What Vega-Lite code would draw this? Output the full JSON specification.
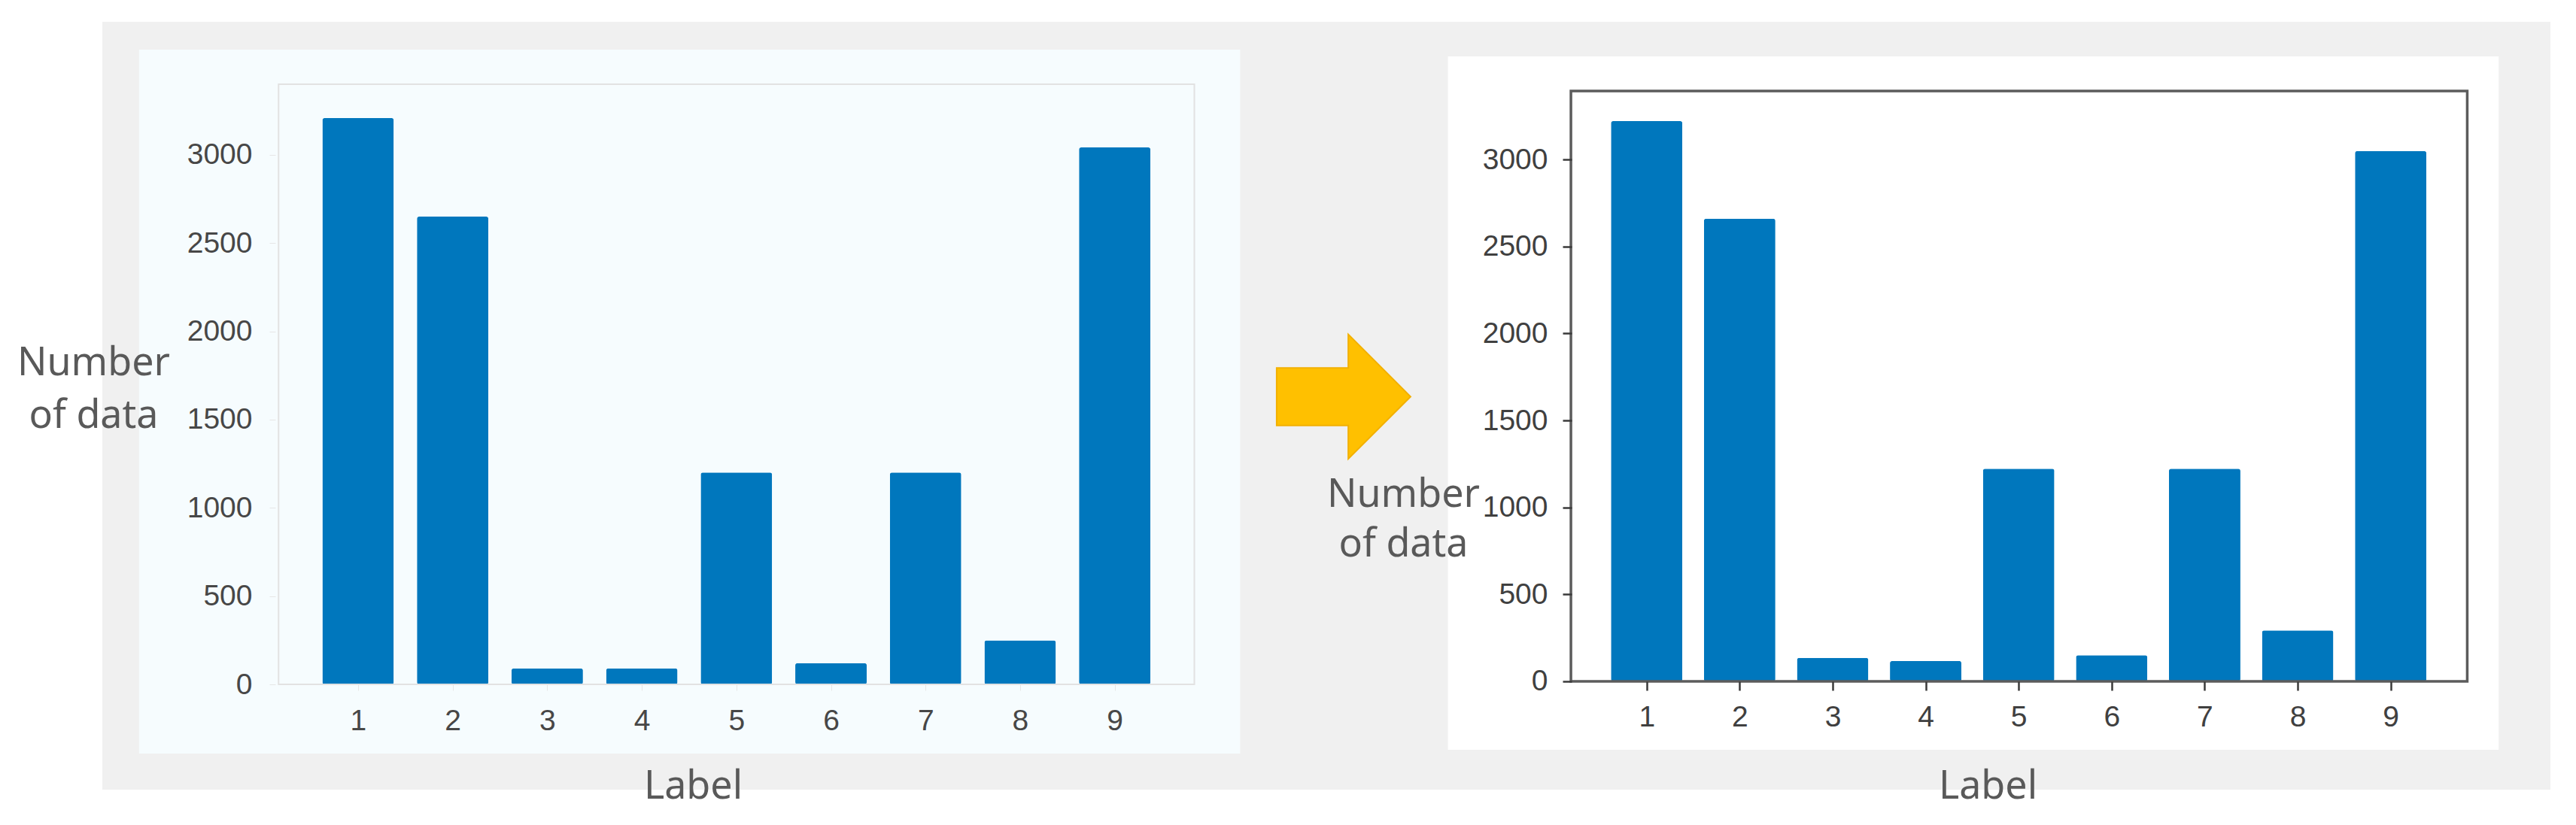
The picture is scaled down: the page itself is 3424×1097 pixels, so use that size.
{
  "$schema": "https://vega.github.io/schema/vega-lite/v6.json",
  "width": 3254,
  "height": 1021,
  "autosize": {"type": "none"},
  "padding": {"left": 136, "top": 29, "right": 34, "bottom": 47},
  "background": "#ffffff",
  "config": {"view": {"fill": "#f0f0f0", "stroke": null}, "axis": {"grid": false, "zindex": 1}},
  "datasets": {
    "before": [
      {"label": 1, "count": 3208}, {"label": 2, "count": 2650}, {"label": 3, "count": 91},
      {"label": 4, "count": 91}, {"label": 5, "count": 1200}, {"label": 6, "count": 120},
      {"label": 7, "count": 1200}, {"label": 8, "count": 249}, {"label": 9, "count": 3042}
    ],
    "after": [
      {"label": 1, "count": 3220}, {"label": 2, "count": 2660}, {"label": 3, "count": 135},
      {"label": 4, "count": 117}, {"label": 5, "count": 1222}, {"label": 6, "count": 150},
      {"label": 7, "count": 1222}, {"label": 8, "count": 293}, {"label": 9, "count": 3048}
    ]
  },
  "layer": [
    {
      "layer": [
        {
          "data": {"values": [{}]},
          "mark": {"type": "rect", "fill": "#f6fcfe"},
          "encoding": {
            "x": {"datum": -1.3156, "type": "quantitative", "scale": {"domain": [-1.6645, 24.14], "nice": false, "zero": false}},
            "x2": {"datum": 10.326},
            "y": {"datum": 3596, "type": "quantitative", "scale": {"domain": [-596.5, 3753.7], "nice": false, "zero": false}},
            "y2": {"datum": -392}
          }
        },
        {
          "data": {"name": "before"},
          "mark": {"type": "bar", "size": 95, "color": "#0077bd", "orient": "vertical", "cornerRadius": 3},
          "encoding": {
            "x": {
              "field": "label", "type": "quantitative",
              "scale": {"domain": [-1.6645, 24.14], "nice": false, "zero": false},
              "axis": {
                "orient": "bottom", "offset": -140, "values": [1, 2, 3, 4, 5, 6, 7, 8, 9], "format": "d", "zindex": 1,
                "domain": false, "ticks": true, "tickColor": "#e6e6e6", "tickSize": 8,
                "labelPadding": 21, "labelFont": "Liberation Sans", "labelFontSize": 39, "labelColor": "#474747",
                "labelFlush": false, "labelOverlap": false,
                "title": "Label", "titleFont": "Noto Sans", "titleFontSize": 52, "titleFontWeight": "normal",
                "titleColor": "#595959", "titleX": 785, "titleY": 135, "titleAlign": "center", "titleBaseline": "middle"
              }
            },
            "y": {
              "field": "count", "type": "quantitative",
              "scale": {"domain": [-596.5, 3753.7], "nice": false, "zero": false},
              "axis": {
                "orient": "left", "offset": -230, "values": [0, 500, 1000, 1500, 2000, 2500, 3000], "format": "d", "zindex": 1,
                "domain": false, "ticks": true, "tickColor": "#e6e6e6", "tickSize": 8,
                "labelPadding": 23, "labelFont": "Liberation Sans", "labelFontSize": 39, "labelColor": "#474747",
                "labelFlush": false, "labelOverlap": false,
                "title": ["Number", "of data"], "titleAngle": 0, "titleFont": "Noto Sans", "titleFontSize": 52,
                "titleFontWeight": "normal", "titleColor": "#595959", "titleLineHeight": 70,
                "titleX": -242, "titleY": 453, "titleAlign": "center", "titleBaseline": "middle"
              }
            }
          }
        },
        {
          "data": {"values": [{}]},
          "mark": {"type": "rect", "fillOpacity": 0, "stroke": "#e2e2e2", "strokeWidth": 2},
          "encoding": {
            "x": {"datum": 0.159, "type": "quantitative", "scale": {"domain": [-1.6645, 24.14], "nice": false, "zero": false}},
            "x2": {"datum": 9.842},
            "y": {"datum": 3400, "type": "quantitative", "scale": {"domain": [-596.5, 3753.7], "nice": false, "zero": false}},
            "y2": {"datum": 0}
          }
        },
        {
          "data": {"values": [{}]},
          "mark": {
            "type": "point",
            "shape": "M -1 -0.43 L 0.07 -0.43 L 0.07 -0.93 L 1 0 L 0.07 0.93 L 0.07 0.43 L -1 0.43 Z",
            "size": 31684, "filled": true, "fill": "#FFC000", "stroke": "#F2B000", "strokeWidth": 2, "opacity": 1
          },
          "encoding": {
            "x": {"datum": 11.42, "type": "quantitative", "scale": {"domain": [-1.6645, 24.14], "nice": false, "zero": false}},
            "y": {"datum": 1630, "type": "quantitative", "scale": {"domain": [-596.5, 3753.7], "nice": false, "zero": false}}
          }
        }
      ]
    },
    {
      "layer": [
        {
          "data": {"values": [{}]},
          "mark": {"type": "rect", "fill": "#ffffff"},
          "encoding": {
            "x": {"datum": -1.137, "type": "quantitative", "scale": {"domain": [-15.565, 10.677], "nice": false, "zero": false}},
            "x2": {"datum": 10.161},
            "y": {"datum": 3592, "type": "quantitative", "scale": {"domain": [-622.5, 3791.1], "nice": false, "zero": false}},
            "y2": {"datum": -393.4}
          }
        },
        {
          "data": {"name": "after"},
          "mark": {"type": "bar", "size": 95, "color": "#0077bd", "orient": "vertical", "cornerRadius": 3},
          "encoding": {
            "x": {
              "field": "label", "type": "quantitative",
              "scale": {"domain": [-15.565, 10.677], "nice": false, "zero": false},
              "axis": {
                "orient": "bottom", "offset": -144, "values": [1, 2, 3, 4, 5, 6, 7, 8, 9], "format": "d", "zindex": 1,
                "domain": false, "ticks": true, "tickColor": "#3a3a3a", "tickSize": 12, "tickWidth": 2.5,
                "labelPadding": 16, "labelFont": "Liberation Sans", "labelFontSize": 39, "labelColor": "#404040",
                "labelFlush": false, "labelOverlap": false,
                "title": "Label", "titleFont": "Noto Sans", "titleFontSize": 52, "titleFontWeight": "normal",
                "titleColor": "#595959", "titleX": 2506, "titleY": 139, "titleAlign": "center", "titleBaseline": "middle"
              }
            },
            "y": {
              "field": "count", "type": "quantitative",
              "scale": {"domain": [-622.5, 3791.1], "nice": false, "zero": false},
              "axis": {
                "orient": "left", "offset": -1953, "values": [0, 500, 1000, 1500, 2000, 2500, 3000], "format": "d", "zindex": 1,
                "domain": false, "ticks": true, "tickColor": "#3a3a3a", "tickSize": 12, "tickWidth": 2.5,
                "labelPadding": 20, "labelFont": "Liberation Sans", "labelFontSize": 39, "labelColor": "#404040",
                "labelFlush": false, "labelOverlap": false,
                "title": ["Number", "of data"], "titleAngle": 0, "titleFont": "Noto Sans", "titleFontSize": 52,
                "titleFontWeight": "normal", "titleColor": "#595959", "titleLineHeight": 66,
                "titleX": -224, "titleY": 628, "titleAlign": "center", "titleBaseline": "middle"
              }
            }
          }
        },
        {
          "data": {"values": [{}]},
          "mark": {"type": "rect", "fillOpacity": 0, "stroke": "#5c5c5c", "strokeWidth": 3.5},
          "encoding": {
            "x": {"datum": 0.1855, "type": "quantitative", "scale": {"domain": [-15.565, 10.677], "nice": false, "zero": false}},
            "x2": {"datum": 9.823},
            "y": {"datum": 3393, "type": "quantitative", "scale": {"domain": [-622.5, 3791.1], "nice": false, "zero": false}},
            "y2": {"datum": 0}
          }
        }
      ]
    }
  ],
  "resolve": {
    "scale": {"x": "independent", "y": "independent"},
    "axis": {"x": "independent", "y": "independent"}
  }
}
